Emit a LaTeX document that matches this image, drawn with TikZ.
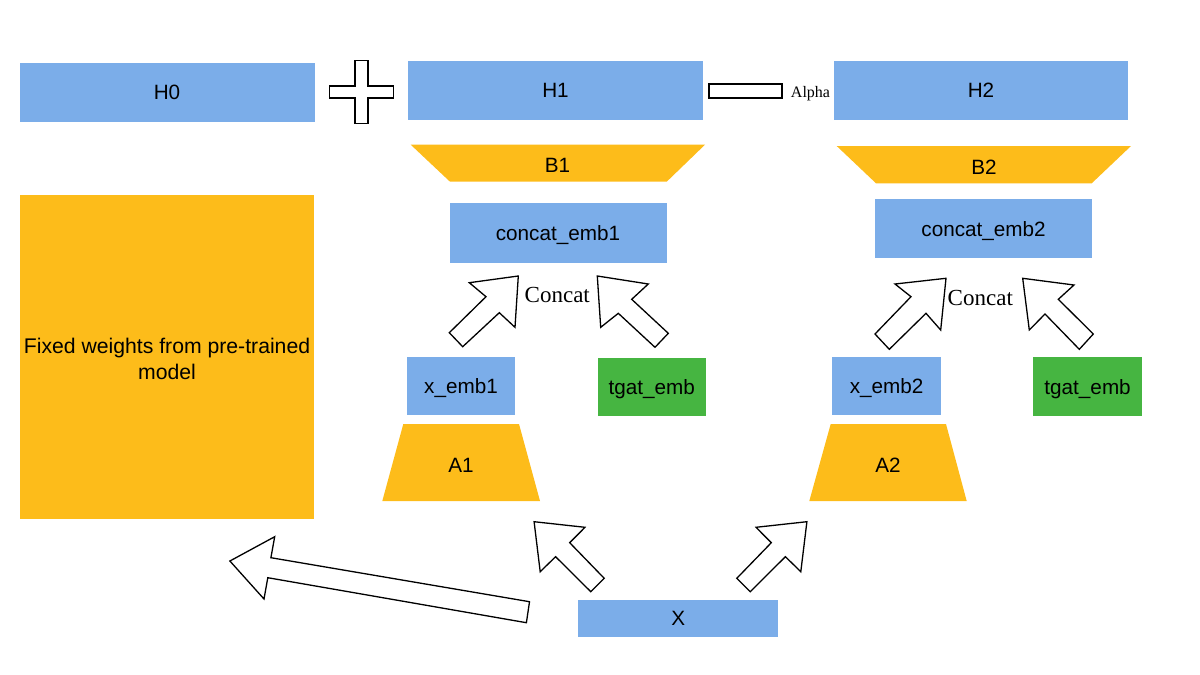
\documentclass[tikz,border=0pt]{standalone}
\usepackage{fontspec}
\setmainfont{Liberation Sans}
\newfontfamily\serifface{Liberation Serif}
\definecolor{cblue}{HTML}{7BADE9}
\definecolor{corange}{HTML}{FDBC1A}
\definecolor{cgreen}{HTML}{46B541}
\tikzset{
  lbl/.style={font=\fontsize{20.7}{24}\selectfont, inner sep=0pt, outer sep=0pt, text height=14.8pt, text depth=0pt},
  bluebox/.style={fill=cblue},
  greenbox/.style={fill=cgreen},
  orangebox/.style={fill=corange},
  trap/.style={fill=corange},
  blockarrow/.style={draw=black, fill=white, line width=1.3pt, line join=miter},
  serifl/.style={font=\serifface\fontsize{23}{26}\selectfont, inner sep=0pt, text height=15.3pt, text depth=0pt},
}
\begin{document}
\begin{tikzpicture}[x=1pt,y=-1pt]
\useasboundingbox (0,0) rectangle (1200,675);
% top row
\node[lbl, bluebox, minimum width=295pt, minimum height=59pt] (h0) at (167,92.2) {H0};
\node[lbl, bluebox, minimum width=295pt, minimum height=59pt] (h1) at (555.5,90.5) {H1};
\node[lbl, bluebox, minimum width=294pt, minimum height=59pt] (h2) at (981,90.5) {H2};
% plus sign
\draw[blockarrow] (355.1,60.7) -- (367.9,60.7) -- (367.9,86.1) -- (393.5,86.1) -- (393.5,97.9) -- (367.9,97.9) -- (367.9,123.3) -- (355.1,123.3) -- (355.1,97.9) -- (329.5,97.9) -- (329.5,86.1) -- (355.1,86.1) -- cycle;
% minus sign and Alpha
\draw[blockarrow] (709,84) rectangle (782,98);
\node[font=\serifface\fontsize{16}{18}\selectfont, inner sep=0pt, text height=10.5pt, text depth=0pt] (alpha) at (810.5,92.5) {Alpha};
% B trapezoids
\fill[trap] (410.7,144.7) -- (705,144.7) -- (666.7,181.7) -- (450,181.7) -- cycle;
\node[lbl] (b1) at (557.5,165) {B1};
\fill[trap] (836.7,146) -- (1131,146) -- (1091.7,183.3) -- (876,183.3) -- cycle;
\node[lbl] (b2) at (984,167) {B2};
% concat embeddings
\node[lbl, bluebox, minimum width=217pt, minimum height=59.4pt] (ce1) at (558,233) {concat\_emb1};
\node[lbl, bluebox, minimum width=217pt, minimum height=59pt] (ce2) at (983.6,228.8) {concat\_emb2};
\node[serifl] (concat1) at (557.3,295) {Concat};
\node[serifl] (concat2) at (980.3,297.5) {Concat};
% fixed weights
\node[orangebox, minimum width=294pt, minimum height=324pt, inner sep=0pt] (fixed) at (167,357) {};
\node[font=\fontsize{21.2}{26}\selectfont, align=center, inner sep=0pt] (fixedtxt) at (167,358.5) {Fixed weights from pre-trained\\model};
% embeddings
\node[lbl, bluebox, minimum width=108.6pt, minimum height=58.6pt] (xe1) at (461,386) {x\_emb1};
\node[lbl, greenbox, minimum width=108.3pt, minimum height=58.3pt] (tg1) at (651.8,386.8) {tgat\_emb};
\node[lbl, bluebox, minimum width=108.7pt, minimum height=58.6pt] (xe2) at (886.6,386) {x\_emb2};
\node[lbl, greenbox, minimum width=108.7pt, minimum height=58.7pt] (tg2) at (1087.6,386.6) {tgat\_emb};
% A trapezoids
\fill[trap] (403.3,424) -- (519,424) -- (540,501) -- (382.3,501) -- cycle;
\node[lbl] (a1) at (461,465) {A1};
\fill[trap] (830.7,424) -- (946,424) -- (966.7,501) -- (809.3,501) -- cycle;
\node[lbl] (a2) at (888,465) {A2};
% X
\node[lbl, bluebox, minimum width=200pt, minimum height=36.7pt] (x) at (678.3,618.3) {X};
% block arrows
\draw[blockarrow] (518.3,276) -- (469.3,282.7) -- (486,296.7) -- (449.3,332.7) -- (462.7,346.7) -- (499.3,312.7) -- (515,327.3) -- cycle;
\draw[blockarrow] (597.3,276) -- (648.3,284) -- (631.7,299.3) -- (668.3,333.3) -- (655,347.3) -- (618.3,313.3) -- (600.7,327.3) -- cycle;
\draw[blockarrow] (946,278.3) -- (895,284) -- (911,296.7) -- (875,334) -- (889.3,349.3) -- (926,313.3) -- (940.7,330) -- cycle;
\draw[blockarrow] (1022.7,278.3) -- (1074,285) -- (1058.3,299.3) -- (1093.3,334) -- (1079.3,349.3) -- (1045,314) -- (1029.3,330) -- cycle;
\draw[blockarrow] (229.9,561) -- (274.7,536.7) -- (270.9,557.7) -- (529.5,601.7) -- (526.4,622.7) -- (267.8,577.7) -- (264,599) -- cycle;
\draw[blockarrow] (534.1,521.7) -- (585,527.3) -- (569.7,542.7) -- (604.2,578.3) -- (590.8,591.7) -- (555.6,556.7) -- (540.2,571.7) -- cycle;
\draw[blockarrow] (806.9,521.7) -- (756,527.3) -- (771.3,542.7) -- (736.8,578.3) -- (750.2,591.7) -- (785.4,556.7) -- (800.8,571.7) -- cycle;
\end{tikzpicture}
\end{document}
